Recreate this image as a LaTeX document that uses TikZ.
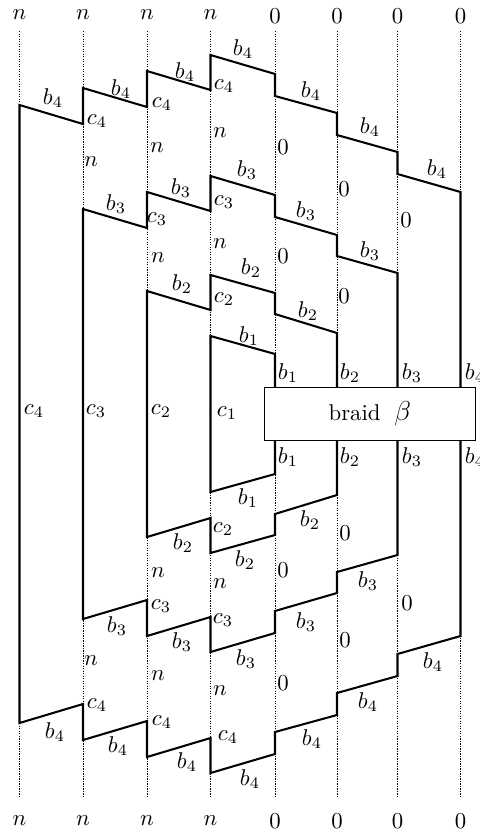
\documentclass[tikz,border=0pt]{standalone}
\begin{document}
\begin{tikzpicture}[x=0.4386pt,y=-0.4386pt,
  strand/.style={line width=0.9pt, line join=miter},
  guide/.style={line width=0.4pt, dash pattern=on 0.55pt off 0.55pt},
  lbl/.style={inner sep=0pt, anchor=center},
  boxstyle/.style={draw, line width=0.4pt, fill=white, inner sep=0pt,
    minimum width=92.8pt, minimum height=23.4pt},
]
\useasboundingbox (0,0) rectangle (480,833);
\clip (0,0) rectangle (480,833);

% dotted guide columns
\foreach \x in {19.5,83,147,210.5,275,337,397.5,460.5}
  \draw[guide] (\x,31) -- (\x,797);

% closed strands: upper half, then its mirror image below the braid
\foreach \s/\t in {1/0,-1/828}{
  \begin{scope}[shift={(0,\t)}, yscale=\s]
    \draw[strand] (19.5,414) -- (19.5,105) -- (83,124) -- (83,88) -- (147,107)
      -- (147,71) -- (210.5,90) -- (210.5,55) -- (275,74) -- (275,96)
      -- (337,113) -- (337,135) -- (397.5,152) -- (397.5,174) -- (460.5,192)
      -- (460.5,414);
    \draw[strand] (83,414) -- (83,209) -- (147,228) -- (147,192) -- (210.5,211)
      -- (210.5,176) -- (275,195) -- (275,217) -- (337,235) -- (337,256)
      -- (397.5,273) -- (397.5,414);
    \draw[strand] (147,414) -- (147,291) -- (210.5,310) -- (210.5,275)
      -- (275,293) -- (275,314) -- (337,333) -- (337,414);
    \draw[strand] (210.5,414) -- (210.5,336) -- (275,354) -- (275,414);
  \end{scope}
}

% the braid box
\node[boxstyle] (braid) at (369.8,414)
  {braid\hspace{6pt}{\large$\beta$}\hspace{5.3pt}};

% column labels
\foreach \x in {19.5,83,147,210.5}{
  \node[lbl] at (\x,15) {$n$};
  \node[lbl] at (\x,821) {$n$};
}
\foreach \x in {275,337,397.5,460.5}{
  \node[lbl] at (\x,16) {$0$};
  \node[lbl] at (\x,821) {$0$};
}

% labels, upper half
\foreach \x/\y/\t in {
  53/98/b_4, 121/89/b_4, 185/72/b_4, 243/49/b_4, 311/91/b_4, 370/127/b_4, 437/169/b_4,
  97/121/c_4, 162/104/c_4, 224/86/c_4,
  91/162/n, 157/148/n, 220/133/n, 283/147/0, 344/189/0, 406/220/0,
  116/204/b_3, 181/188/b_3, 247/170/b_3, 306/211/b_3, 370/251/b_3,
  157/219/c_3, 224/202/c_3,
  158/258/n, 220/244/n, 283/256/0, 344/296/0,
  182/284/b_2, 251/268/b_2, 308/311/b_2, 224/299/c_2,
  249/336/b_1,
  288/373/b_1, 350/373/b_2, 412/373/b_3, 475/373/b_4,
  34/411/c_4, 96/411/c_3, 161/411/c_2, 227/413/c_1}
  \node[lbl] at (\x,\y) {$\t$};

% labels, lower half
\foreach \x/\y/\t in {
  288/457/b_1, 350/457/b_2, 412/457/b_3, 475/457/b_4,
  248/498/b_1,
  310/520/b_2, 223/529/c_2, 183/543/b_2, 245/560/b_2,
  345/533/0, 158/573/n, 283/570/0, 220/584/n,
  368/581/b_3, 161/606/c_3, 223/620/c_3, 407/603/0,
  117/626/b_3, 306/622/b_3, 182/642/b_3, 246/659/b_3,
  345/640/0, 91/661/n, 433/662/b_4,
  158/676/n, 283/683/0, 220/691/n,
  97/705/c_4, 55/732/b_4, 162/722/c_4, 118/746/b_4, 228/737/c_4,
  187/762/b_4, 250/779/b_4, 312/739/b_4, 368/702/b_4}
  \node[lbl] at (\x,\y) {$\t$};
\end{tikzpicture}
\end{document}
